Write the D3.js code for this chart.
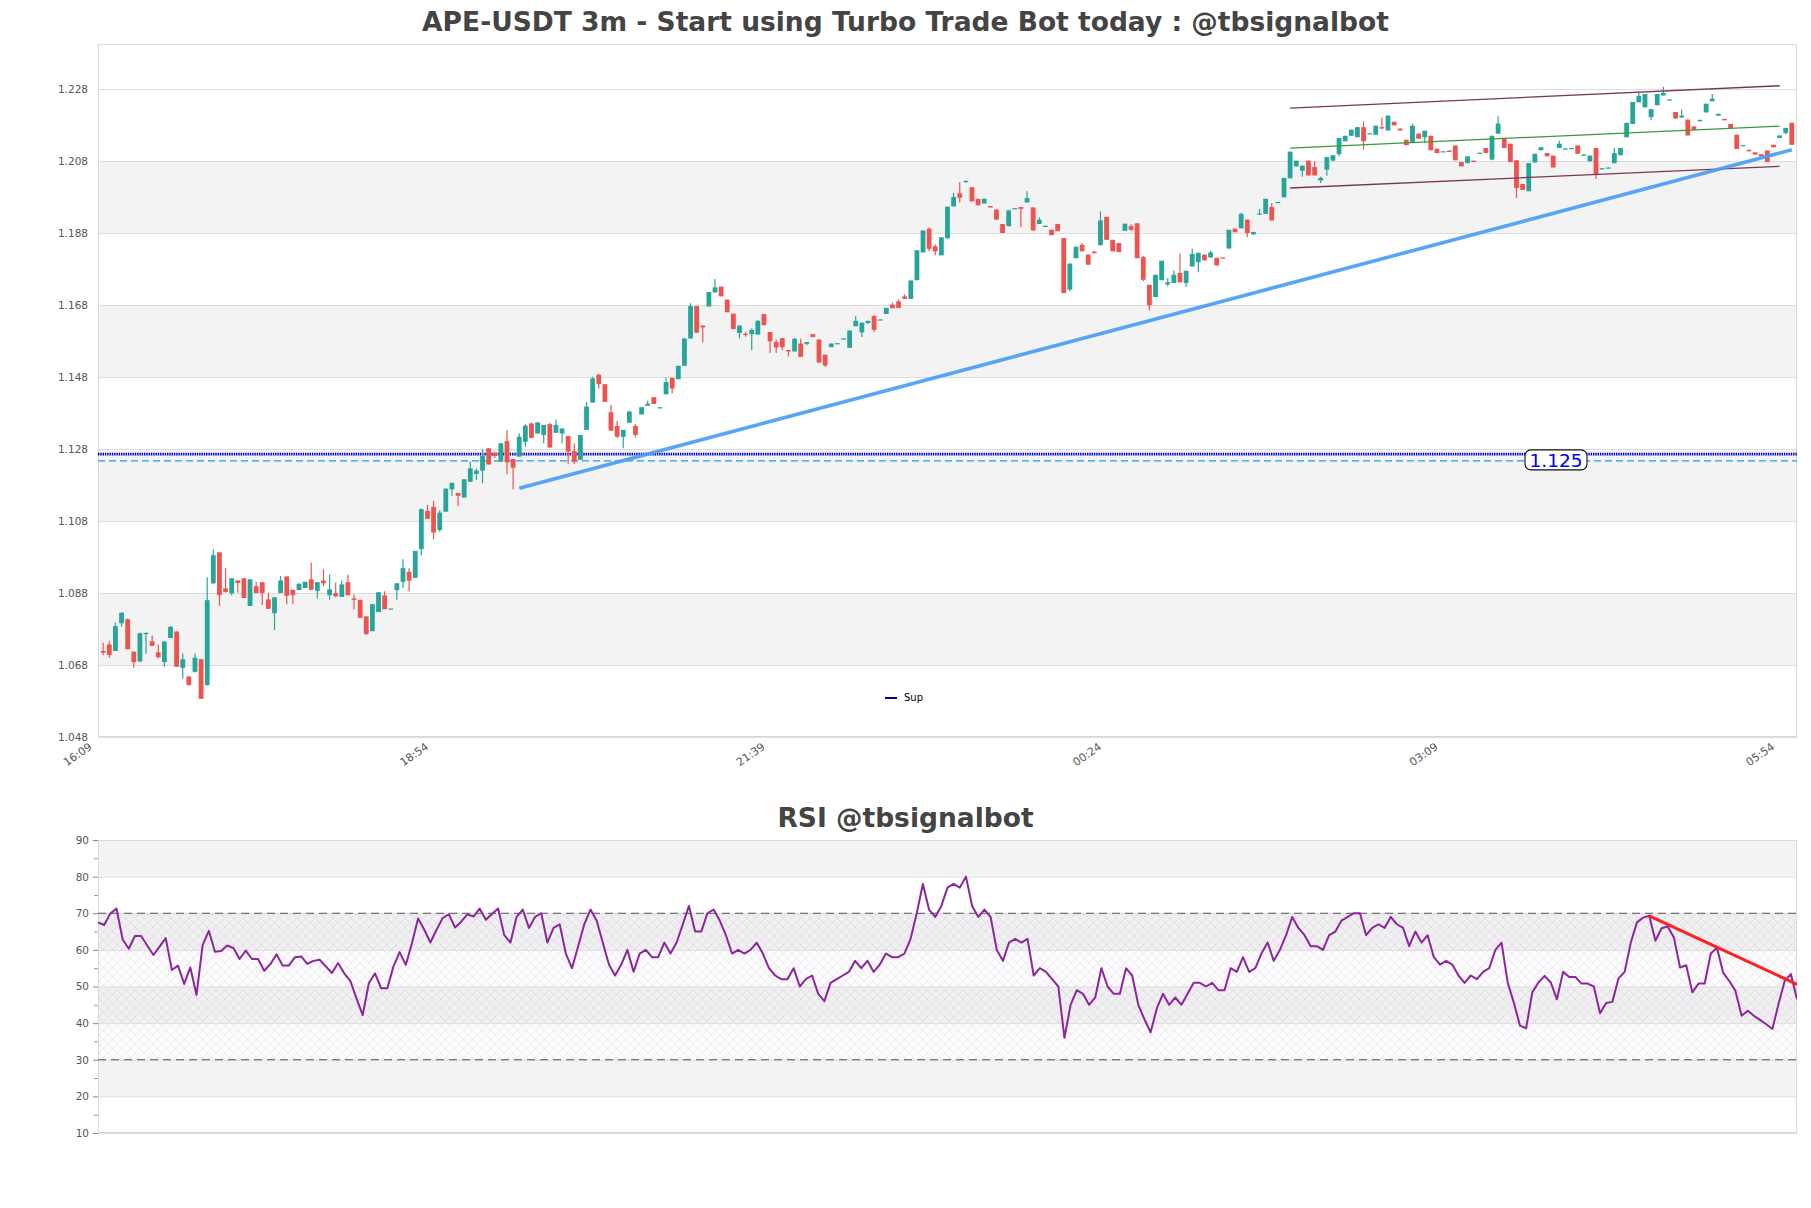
<!DOCTYPE html>
<html><head><meta charset="utf-8">
<script src="https://cdn.jsdelivr.net/npm/d3@7"></script>
<style>body{margin:0;background:#fff}svg{display:block}</style>
</head><body>
<svg id="chart" width="1811" height="1208"></svg>
<script>
// ---------------- DATA ----------------
const opens = [
1.0719,1.0737,1.0719,1.0796,1.0807,1.0717,1.0690,1.0766,1.0746,1.0715,
1.0688,1.0755,1.0773,1.0672,1.0648,1.0661,1.0696,1.0624,1.0907,1.0993,
1.0893,1.0879,1.0915,1.0921,1.0844,1.0899,1.0910,1.0862,1.0824,1.0880,
1.0926,1.0889,1.0888,1.0894,1.0918,1.0886,1.0914,1.0874,1.0879,1.0869,
1.0910,1.0865,1.0861,1.0815,1.0774,1.0827,1.0873,1.0836,1.0888,1.0911,
1.0939,1.0922,1.1002,1.1108,1.1119,1.1055,1.1106,1.1168,1.1158,1.1145,
1.1189,1.1211,1.1220,1.1282,1.1268,1.1245,1.1302,1.1252,1.1259,1.1300,
1.1351,1.1323,1.1319,1.1349,1.1325,1.1323,1.1316,1.1274,1.1250,1.1333,
1.1409,1.1486,1.1460,1.1382,1.1344,1.1314,1.1353,1.1344,1.1376,1.1400,
1.1424,1.1393,1.1432,1.1478,1.1474,1.1511,1.1587,1.1677,1.1623,1.1676,
1.1715,1.1731,1.1695,1.1656,1.1602,1.1600,1.1599,1.1598,1.1655,1.1605,
1.1577,1.1588,1.1555,1.1551,1.1573,1.1572,1.1599,1.1584,1.1542,1.1563,
1.1572,1.1585,1.1561,1.1621,1.1604,1.1630,1.1649,1.1638,1.1655,1.1681,
1.1690,1.1704,1.1697,1.1749,1.1826,1.1892,1.1843,1.1818,1.1865,1.1954,
1.1990,1.2022,1.2007,1.1975,1.1962,1.1955,1.1945,1.1905,1.1899,1.1947,
1.1952,1.1965,1.1951,1.1905,1.1898,1.1889,1.1905,1.1866,1.1723,1.1810,
1.1847,1.1820,1.1828,1.1846,1.1925,1.1861,1.1852,1.1886,1.1899,1.1907,
1.1813,1.1736,1.1702,1.1749,1.1737,1.1741,1.1769,1.1741,1.1787,1.1799,
1.1820,1.1812,1.1811,1.1812,1.1837,1.1892,1.1893,1.1917,1.1876,1.1932,
1.1933,1.1952,1.1964,1.1979,1.2032,1.2065,1.2053,1.2081,1.2063,1.2026,
1.2056,1.2081,1.2099,1.2135,1.2150,1.2146,1.2174,1.2155,1.2153,1.2174,
1.2165,1.2189,1.2170,1.2139,1.2130,1.2156,1.2146,1.2150,1.2114,1.2105,
1.2109,1.2123,1.2077,1.2074,1.2081,1.2101,1.2116,1.2084,1.2156,1.2142,
1.2128,1.2082,1.2016,1.1996,1.2076,1.2110,1.2102,1.2095,1.2116,1.2113,
1.2114,1.2123,1.2096,1.2079,1.2116,1.2058,1.2060,1.2074,1.2096,1.2146,
1.2183,1.2243,1.2229,1.2202,1.2235,1.2262,1.2249,1.2216,1.2201,1.2195,
1.2176,1.2192,1.2215,1.2246,1.2206,1.2197,1.2183,1.2153,1.2122,1.2111,
1.2104,1.2099,1.2109,1.2125,1.2144,1.2158,1.2186];
const highs = [
1.0742,1.0747,1.0798,1.0827,1.0809,1.0717,1.0770,1.0771,1.0762,1.0737,
1.0747,1.0788,1.0774,1.0712,1.0648,1.0712,1.0696,1.0924,1.1001,1.0993,
1.0949,1.0921,1.0915,1.0921,1.0918,1.0911,1.0910,1.0881,1.0868,1.0927,
1.0926,1.0889,1.0906,1.0911,1.0965,1.0910,1.0946,1.0931,1.0909,1.0915,
1.0931,1.0875,1.0861,1.0815,1.0849,1.0882,1.0885,1.0837,1.0907,1.0974,
1.0949,1.0997,1.1115,1.1125,1.1136,1.1110,1.1170,1.1186,1.1158,1.1196,
1.1245,1.1226,1.1279,1.1282,1.1273,1.1296,1.1333,1.1252,1.1324,1.1349,
1.1353,1.1354,1.1347,1.1352,1.1362,1.1337,1.1316,1.1296,1.1319,1.1411,
1.1481,1.1490,1.1460,1.1402,1.1358,1.1333,1.1386,1.1350,1.1396,1.1414,
1.1424,1.1396,1.1478,1.1478,1.1511,1.1587,1.1685,1.1677,1.1623,1.1716,
1.1752,1.1731,1.1695,1.1656,1.1623,1.1606,1.1615,1.1639,1.1655,1.1605,
1.1584,1.1588,1.1555,1.1589,1.1586,1.1577,1.1599,1.1584,1.1542,1.1573,
1.1574,1.1587,1.1609,1.1649,1.1631,1.1636,1.1652,1.1640,1.1672,1.1687,
1.1696,1.1710,1.1748,1.1832,1.1887,1.1895,1.1848,1.1868,1.1953,1.1991,
1.2022,1.2025,1.2007,1.1975,1.1975,1.1955,1.1945,1.1905,1.1943,1.1949,
1.1952,1.1996,1.1951,1.1924,1.1900,1.1889,1.1905,1.1866,1.1795,1.1842,
1.1852,1.1820,1.1831,1.1940,1.1925,1.1861,1.1852,1.1906,1.1904,1.1907,
1.1817,1.1736,1.1764,1.1803,1.1755,1.1776,1.1824,1.1775,1.1836,1.1825,
1.1820,1.1831,1.1811,1.1812,1.1889,1.1892,1.1936,1.1917,1.1883,1.1947,
1.1975,1.1963,1.1966,1.2033,1.2106,1.2081,1.2067,1.2081,1.2079,1.2036,
1.2091,1.2096,1.2144,1.2150,1.2167,1.2174,1.2190,1.2157,1.2178,1.2201,
1.2206,1.2189,1.2170,1.2139,1.2184,1.2156,1.2164,1.2150,1.2114,1.2107,
1.2109,1.2123,1.2077,1.2093,1.2081,1.2103,1.2116,1.2150,1.2204,1.2142,
1.2128,1.2082,1.2016,1.2074,1.2100,1.2118,1.2102,1.2095,1.2136,1.2115,
1.2116,1.2123,1.2098,1.2095,1.2116,1.2060,1.2062,1.2116,1.2116,1.2186,
1.2244,1.2269,1.2266,1.2224,1.2266,1.2286,1.2251,1.2216,1.2223,1.2195,
1.2176,1.2195,1.2239,1.2266,1.2211,1.2197,1.2183,1.2153,1.2124,1.2111,
1.2104,1.2099,1.2109,1.2125,1.2151,1.2172,1.2186];
const lows = [
1.0707,1.0700,1.0719,1.0786,1.0724,1.0672,1.0688,1.0711,1.0733,1.0698,
1.0675,1.0755,1.0675,1.0642,1.0624,1.0659,1.0586,1.0624,1.0904,1.0844,
1.0881,1.0873,1.0881,1.0866,1.0844,1.0880,1.0847,1.0836,1.0777,1.0880,
1.0849,1.0849,1.0888,1.0894,1.0889,1.0865,1.0899,1.0861,1.0868,1.0869,
1.0874,1.0835,1.0811,1.0763,1.0774,1.0827,1.0835,1.0836,1.0861,1.0894,
1.0884,1.0922,1.0984,1.1086,1.1029,1.1050,1.1106,1.1150,1.1122,1.1145,
1.1189,1.1194,1.1185,1.1237,1.1255,1.1245,1.1210,1.1168,1.1259,1.1286,
1.1311,1.1323,1.1296,1.1284,1.1325,1.1296,1.1238,1.1238,1.1250,1.1333,
1.1409,1.1448,1.1411,1.1331,1.1311,1.1282,1.1353,1.1312,1.1376,1.1400,
1.1405,1.1393,1.1432,1.1435,1.1474,1.1511,1.1587,1.1603,1.1576,1.1676,
1.1715,1.1704,1.1660,1.1613,1.1588,1.1592,1.1554,1.1598,1.1624,1.1547,
1.1547,1.1554,1.1537,1.1551,1.1536,1.1568,1.1591,1.1520,1.1508,1.1563,
1.1572,1.1585,1.1561,1.1621,1.1591,1.1627,1.1604,1.1638,1.1655,1.1671,
1.1672,1.1697,1.1697,1.1749,1.1826,1.1829,1.1818,1.1818,1.1865,1.1954,
1.1965,1.2019,1.1968,1.1957,1.1962,1.1951,1.1917,1.1880,1.1899,1.1947,
1.1896,1.1965,1.1887,1.1905,1.1898,1.1874,1.1885,1.1713,1.1718,1.1810,
1.1829,1.1792,1.1824,1.1846,1.1861,1.1829,1.1827,1.1886,1.1886,1.1810,
1.1746,1.1665,1.1702,1.1749,1.1732,1.1741,1.1743,1.1730,1.1787,1.1771,
1.1804,1.1812,1.1790,1.1810,1.1837,1.1882,1.1893,1.1868,1.1876,1.1932,
1.1933,1.1915,1.1964,1.1979,1.2032,1.2065,1.2036,1.2040,1.2040,1.2019,
1.2039,1.2081,1.2093,1.2135,1.2150,1.2146,1.2112,1.2155,1.2153,1.2170,
1.2165,1.2179,1.2165,1.2124,1.2130,1.2142,1.2130,1.2110,1.2102,1.2105,
1.2105,1.2082,1.2065,1.2074,1.2077,1.2101,1.2102,1.2082,1.2156,1.2116,
1.2077,1.1977,1.2000,1.1996,1.2076,1.2110,1.2093,1.2062,1.2116,1.2113,
1.2114,1.2100,1.2096,1.2079,1.2030,1.2058,1.2060,1.2074,1.2096,1.2146,
1.2183,1.2243,1.2229,1.2193,1.2235,1.2262,1.2249,1.2198,1.2201,1.2151,
1.2167,1.2190,1.2215,1.2246,1.2206,1.2193,1.2170,1.2113,1.2122,1.2107,
1.2098,1.2093,1.2077,1.2118,1.2144,1.2154,1.2125];
const closes = [
1.0714,1.0708,1.0788,1.0825,1.0724,1.0688,1.0768,1.0769,1.0733,1.0702,
1.0745,1.0786,1.0675,1.0696,1.0624,1.0700,1.0586,1.0860,1.0985,1.0874,
1.0883,1.0921,1.0908,1.0866,1.0918,1.0880,1.0880,1.0836,1.0868,1.0915,
1.0872,1.0874,1.0906,1.0911,1.0889,1.0910,1.0907,1.0890,1.0871,1.0904,
1.0874,1.0861,1.0811,1.0766,1.0849,1.0882,1.0835,1.0837,1.0907,1.0949,
1.0914,1.0997,1.1113,1.1086,1.1048,1.1103,1.1170,1.1186,1.1150,1.1196,
1.1226,1.1220,1.1261,1.1237,1.1261,1.1296,1.1243,1.1228,1.1314,1.1345,
1.1311,1.1354,1.1347,1.1284,1.1347,1.1337,1.1273,1.1245,1.1319,1.1398,
1.1476,1.1460,1.1411,1.1331,1.1314,1.1333,1.1384,1.1319,1.1396,1.1406,
1.1405,1.1396,1.1466,1.1448,1.1511,1.1587,1.1677,1.1603,1.1618,1.1716,
1.1729,1.1704,1.1660,1.1613,1.1623,1.1597,1.1611,1.1636,1.1624,1.1579,
1.1562,1.1563,1.1551,1.1586,1.1536,1.1577,1.1591,1.1520,1.1512,1.1573,
1.1574,1.1587,1.1609,1.1636,1.1631,1.1636,1.1611,1.1640,1.1672,1.1671,
1.1672,1.1697,1.1748,1.1832,1.1887,1.1836,1.1829,1.1868,1.1953,1.1980,
1.1978,1.2025,1.1968,1.1957,1.1975,1.1951,1.1917,1.1880,1.1943,1.1949,
1.1947,1.1977,1.1887,1.1917,1.1900,1.1874,1.1885,1.1713,1.1795,1.1842,
1.1829,1.1792,1.1824,1.1915,1.1861,1.1829,1.1827,1.1906,1.1889,1.1810,
1.1750,1.1679,1.1764,1.1803,1.1743,1.1764,1.1743,1.1775,1.1822,1.1825,
1.1804,1.1826,1.1790,1.1810,1.1889,1.1882,1.1933,1.1880,1.1883,1.1934,
1.1975,1.1915,1.1966,1.2033,1.2106,1.2081,1.2067,1.2040,1.2040,1.2033,
1.2091,1.2096,1.2144,1.2150,1.2167,1.2174,1.2135,1.2157,1.2178,1.2170,
1.2206,1.2179,1.2165,1.2124,1.2178,1.2142,1.2164,1.2110,1.2102,1.2107,
1.2105,1.2082,1.2065,1.2093,1.2077,1.2103,1.2102,1.2150,1.2184,1.2116,
1.2077,1.2005,1.2000,1.2074,1.2100,1.2118,1.2093,1.2062,1.2128,1.2115,
1.2116,1.2100,1.2098,1.2095,1.2042,1.2060,1.2062,1.2102,1.2116,1.2186,
1.2244,1.2261,1.2266,1.2224,1.2266,1.2269,1.2251,1.2198,1.2206,1.2151,
1.2167,1.2194,1.2239,1.2253,1.2211,1.2193,1.2170,1.2113,1.2124,1.2107,
1.2098,1.2093,1.2077,1.2118,1.2151,1.2172,1.2125];
const rsiValues = [
67.5,66.8,69.9,71.3,62.9,60.3,63.8,63.8,61.2,58.6,
60.9,63.2,54.5,55.7,50.7,55.2,47.7,61.3,65.2,59.5,
59.7,61.2,60.5,57.5,59.8,57.5,57.5,54.3,56.1,58.8,
55.7,55.7,58.0,58.2,56.2,57.0,57.3,55.5,53.7,56.4,
53.6,51.5,46.7,42.2,50.9,53.6,49.5,49.5,55.5,59.4,
55.9,61.8,68.6,65.5,62.0,65.5,68.7,69.7,66.1,67.7,
69.7,69.1,71.3,68.2,69.8,71.3,64,62,69,71,
66,69,70,62,66,67,59,55,61,67,
71,68,62,56,53,56,60,54,59,60,
58,58,62,59,62,67,72,65,65,70,
71,68,64,59,60,59,60,62,59,55,
53,52,52,55,50,52,53,48,46,51,
52,53,54,57,55,57,54,56,59,58,
58,59,63,70,78,71,69,72,77,78,
77,80,72,69,71,69,60,57,62,63,
62,63,53,55,54,52,50,36,45,49,
48,45,47,55,50,48,48,55,53,45,
41,37.5,44,48,45,47,45,48,51,51,
50,51,49,49,55,54,58,54,55,59,
62,57,60,64,69,66,64,61,61,60,
64,65,68,69,70,70,64,66,67,66,
69,67,66,61,65,62,64,58,56,57,
56,53,51,53,52,54,55,60,
62.0,51.1,45.6,39.3,38.6,48.4,51.1,52.9,51.1,46.5,
54.0,52.6,52.6,50.8,50.8,50.0,42.7,45.5,45.8,52.2,
54.0,62.0,67.5,68.8,69.3,62.5,65.9,66.4,63.4,55.2,
55.8,48.4,50.8,50.8,59.0,60.6,53.8,51.5,48.8,42.0,
43.4,42.0,40.9,39.7,38.4,45.2,51.5,53.4,46.5];

const xTickIndex = [0, 55, 110, 165, 220, 275];
const xTickLabels = ["16:09", "18:54", "21:39", "00:24", "03:09", "05:54"];
const priceTicks = [1.048, 1.068, 1.088, 1.108, 1.128, 1.148, 1.168, 1.188, 1.208, 1.228];
const rsiTicks = [10, 20, 30, 40, 50, 60, 70, 80, 90];
const rsiMinorTicks = [15, 25, 35, 45, 55, 65, 75, 85];

const supDottedLevel = 1.1266;
const supDashedLevel = 1.1247;
const supLabel = "1.125";
const trendIdx = [68, 276];
const trendVal = [1.1171, 1.2111];
const channelIdx = [194, 274];
const channelUpper = [1.2227, 1.2289];
const channelMid = [1.2116, 1.2177];
const channelLower = [1.2005, 1.2065];
const rsiTrendIdx = [252, 276];
const rsiTrendVal = [69.3, 50.6];
const rsiLevels = [70, 30];

const mainTitle = "APE-USDT 3m - Start using Turbo Trade Bot today : @tbsignalbot";
const rsiTitle = "RSI @tbsignalbot";
const legendLabel = "Sup";

// ---------------- DRAW ----------------
const svg = d3.select("#chart");
const W = 1811;
const L = 98, R = 1797;
const mTop = 44, mBot = 737;
const rTop = 840, rBot = 1133;
const N = opens.length;
const FONT = "DejaVu Sans, Verdana, sans-serif";

const x = d3.scaleLinear().domain([-0.85, N - 1 + 0.85]).range([L, R]);
const y = d3.scaleLinear().domain([1.048, 1.2405]).range([mBot, mTop]);
const xr = d3.scaleLinear().domain([0, N - 1]).range([L, R]);
const yr = d3.scaleLinear().domain([10, 90]).range([rBot, rTop]);

const defs = svg.append("defs");
defs.append("clipPath").attr("id", "clipMain").append("rect")
  .attr("x", L).attr("y", mTop).attr("width", R - L).attr("height", mBot - mTop);
defs.append("clipPath").attr("id", "clipRsi").append("rect")
  .attr("x", L).attr("y", rTop).attr("width", R - L).attr("height", rBot - rTop);
const pat = defs.append("pattern").attr("id", "hatch")
  .attr("patternUnits", "userSpaceOnUse").attr("width", 9).attr("height", 9);
pat.append("path").attr("d", "M0,0 L9,9 M9,0 L0,9 M-1,8 L1,10 M8,-1 L10,1")
  .attr("stroke", "rgba(170,145,195,0.30)").attr("stroke-width", 0.6).attr("fill", "none");

// Titles
svg.append("text").attr("x", W / 2).attr("y", 31).attr("text-anchor", "middle")
  .attr("font-family", FONT).attr("font-weight", "bold").attr("font-size", 26.5)
  .attr("fill", "#444").text(mainTitle);
svg.append("text").attr("x", W / 2).attr("y", 827).attr("text-anchor", "middle")
  .attr("font-family", FONT).attr("font-weight", "bold").attr("font-size", 26.5)
  .attr("fill", "#444").text(rsiTitle);

// ---------- Main panel ----------
const gm = svg.append("g");
const bandPairs = d3.pairs(priceTicks);
gm.selectAll("rect.band").data(bandPairs).join("rect")
  .attr("x", L).attr("width", R - L)
  .attr("y", d => y(d[1])).attr("height", d => y(d[0]) - y(d[1]))
  .attr("fill", (d, k) => (k % 2 === 1 ? "#f3f3f3" : "#ffffff"));
gm.selectAll("line.grid").data(priceTicks).join("line")
  .attr("x1", L).attr("x2", R).attr("y1", d => y(d) + 0.5).attr("y2", d => y(d) + 0.5)
  .attr("stroke", "#dcdcdc").attr("stroke-width", 1);
gm.append("rect").attr("x", L + 0.5).attr("y", mTop + 0.5).attr("width", R - L - 1).attr("height", mBot - mTop - 1)
  .attr("fill", "none").attr("stroke", "#d9d9d9");

const yAxis = d3.axisLeft(y).tickValues(priceTicks).tickFormat(d3.format(".3f")).tickSize(0).tickPadding(10);
const ya = gm.append("g").attr("transform", `translate(${L},0)`).call(yAxis);
ya.select(".domain").remove();
ya.selectAll("text").attr("font-family", FONT).attr("font-size", 10.5).attr("fill", "#555");

gm.selectAll("text.xl").data(xTickIndex).join("text")
  .attr("transform", d => `translate(${x(d) - 15},${mBot + 5}) rotate(-35)`)
  .attr("text-anchor", "end").attr("dy", "0.71em")
  .attr("font-family", FONT).attr("font-size", 11).attr("fill", "#555")
  .text((d, k) => xTickLabels[k]);

const pm = gm.append("g").attr("clip-path", "url(#clipMain)");

pm.append("line").attr("x1", L).attr("x2", R)
  .attr("y1", y(supDashedLevel)).attr("y2", y(supDashedLevel))
  .attr("stroke", "#1a9fe0").attr("stroke-width", 1.3).attr("stroke-dasharray", "7,4");
pm.append("line").attr("x1", L).attr("x2", R)
  .attr("y1", y(supDottedLevel)).attr("y2", y(supDottedLevel))
  .attr("stroke", "#0000cc").attr("stroke-width", 2.8).attr("stroke-dasharray", "1.4,0.9");

const idx = d3.range(N);
const up = i => closes[i] >= opens[i];
const cg = pm.append("g");
cg.selectAll("line.wick").data(idx).join("line")
  .attr("x1", i => x(i)).attr("x2", i => x(i))
  .attr("y1", i => y(highs[i])).attr("y2", i => y(lows[i]))
  .attr("stroke", i => up(i) ? "#26a69a" : "#ef5350").attr("stroke-width", 1.2);
cg.selectAll("rect.body").data(idx).join("rect")
  .attr("x", i => x(i) - 2.4).attr("width", 4.8)
  .attr("y", i => y(Math.max(opens[i], closes[i])))
  .attr("height", i => Math.max(1.2, Math.abs(y(opens[i]) - y(closes[i]))))
  .attr("fill", i => up(i) ? "#26a69a" : "#ef5350");

const chan = [[channelUpper, "#7a3651"], [channelMid, "#3a9a3a"], [channelLower, "#7a3651"]];
pm.selectAll("line.chan").data(chan).join("line")
  .attr("x1", x(channelIdx[0])).attr("x2", x(channelIdx[1]))
  .attr("y1", d => y(d[0][0])).attr("y2", d => y(d[0][1]))
  .attr("stroke", d => d[1]).attr("stroke-width", 1.3);

pm.append("line")
  .attr("x1", x(trendIdx[0])).attr("x2", x(trendIdx[1]))
  .attr("y1", y(trendVal[0])).attr("y2", y(trendVal[1]))
  .attr("stroke", "#4a9cf5").attr("stroke-width", 3.6).attr("stroke-opacity", 0.92);

const lblX = 1556, lblY = y(supDashedLevel) - 1;
gm.append("rect").attr("x", lblX - 31).attr("y", lblY - 10).attr("width", 62).attr("height", 20)
  .attr("rx", 6).attr("fill", "#fff").attr("stroke", "#111").attr("stroke-width", 1.1);
gm.append("text").attr("x", lblX).attr("y", lblY).attr("dy", "0.36em").attr("text-anchor", "middle")
  .attr("font-family", FONT).attr("font-size", 18.5).attr("fill", "#0000ee").text(supLabel);

gm.append("line").attr("x1", 885).attr("x2", 897).attr("y1", 698).attr("y2", 698)
  .attr("stroke", "#00008b").attr("stroke-width", 2);
gm.append("text").attr("x", 904).attr("y", 697).attr("dy", "0.35em")
  .attr("font-family", FONT).attr("font-size", 10).attr("fill", "#000").text(legendLabel);

// ---------- RSI panel ----------
const gr = svg.append("g");
const rsiBands = d3.pairs(rsiTicks);
gr.selectAll("rect.band").data(rsiBands).join("rect")
  .attr("x", L).attr("width", R - L)
  .attr("y", d => yr(d[1])).attr("height", d => yr(d[0]) - yr(d[1]))
  .attr("fill", (d, k) => (k % 2 === 1 ? "#f3f3f3" : "#ffffff"));
gr.append("rect").attr("x", L).attr("width", R - L)
  .attr("y", yr(rsiLevels[0])).attr("height", yr(rsiLevels[1]) - yr(rsiLevels[0]))
  .attr("fill", "rgba(150,110,180,0.025)");
gr.append("rect").attr("x", L).attr("width", R - L)
  .attr("y", yr(rsiLevels[0])).attr("height", yr(rsiLevels[1]) - yr(rsiLevels[0]))
  .attr("fill", "url(#hatch)");
gr.selectAll("line.grid").data(rsiTicks).join("line")
  .attr("x1", L).attr("x2", R).attr("y1", d => yr(d) + 0.5).attr("y2", d => yr(d) + 0.5)
  .attr("stroke", "#dcdcdc").attr("stroke-width", 1);
gr.append("rect").attr("x", L + 0.5).attr("y", rTop + 0.5).attr("width", R - L - 1).attr("height", rBot - rTop - 1)
  .attr("fill", "none").attr("stroke", "#d9d9d9");
gr.selectAll("line.lvl").data(rsiLevels).join("line")
  .attr("x1", L).attr("x2", R).attr("y1", d => yr(d)).attr("y2", d => yr(d))
  .attr("stroke", "#555").attr("stroke-width", 1.2).attr("stroke-dasharray", "8,5");

const ryAxis = d3.axisLeft(yr).tickValues(rsiTicks).tickSize(5).tickPadding(4);
const rya = gr.append("g").attr("transform", `translate(${L},0)`).call(ryAxis);
rya.select(".domain").remove();
rya.selectAll("line").attr("stroke", "#888");
rya.selectAll("text").attr("font-family", FONT).attr("font-size", 10.5).attr("fill", "#555");
const ryMinor = d3.axisLeft(yr).tickValues(rsiMinorTicks).tickSize(4).tickFormat("");
const rym = gr.append("g").attr("transform", `translate(${L},0)`).call(ryMinor);
rym.select(".domain").remove();
rym.selectAll("line").attr("stroke", "#999");

const pr = gr.append("g").attr("clip-path", "url(#clipRsi)");
pr.append("path").datum(rsiValues)
  .attr("d", d3.line().x((d, j) => xr(j)).y(d => yr(d)))
  .attr("fill", "none").attr("stroke", "#8b279b").attr("stroke-width", 2).attr("stroke-linejoin", "round");
pr.append("line")
  .attr("x1", xr(rsiTrendIdx[0])).attr("x2", xr(rsiTrendIdx[1]))
  .attr("y1", yr(rsiTrendVal[0])).attr("y2", yr(rsiTrendVal[1]))
  .attr("stroke", "#ff2020").attr("stroke-width", 3);
</script>
</body></html>
